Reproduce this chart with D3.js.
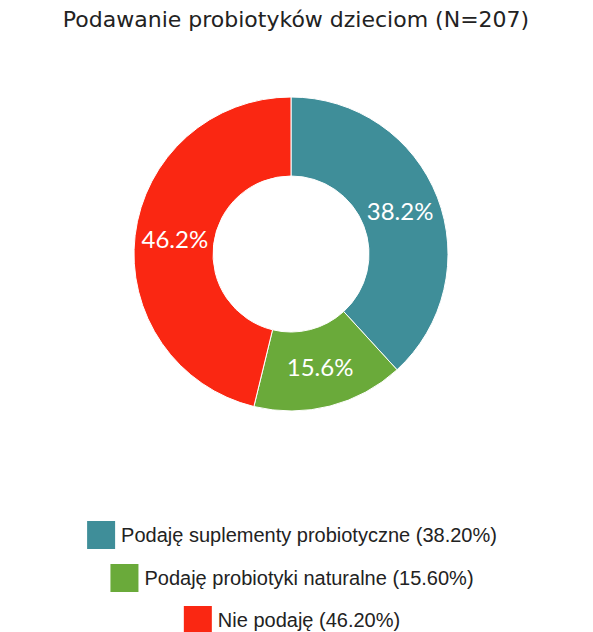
<!DOCTYPE html>
<html><head><meta charset="utf-8">
<script src="https://cdn.jsdelivr.net/npm/d3@7"></script>
<style>body{margin:0;background:#fff}</style>
</head><body>
<svg id="chart" width="593" height="632"></svg>
<script>
var labels = ["Podaję suplementy probiotyczne", "Podaję probiotyki naturalne", "Nie podaję"];
var values = [38.2, 15.6, 46.2];
var colors = ["#3f8e99", "#6aaa3a", "#fa2712"];

var svg = d3.select("#chart");
svg.append("text").attr("x", 296).attr("y", 27).attr("text-anchor", "middle")
    .style("font-family", "DejaVu Sans").style("font-size", "22px").style("fill", "#222")
    .text("Podawanie probiotyków dzieciom (N=207)");

var pie = d3.pie().sort(null);
var arc = d3.arc().innerRadius(78).outerRadius(157);
var g = svg.append("g").attr("transform", "translate(291,254)");
var arcs = pie(values);
g.selectAll("path").data(arcs).enter().append("path")
    .attr("d", arc).attr("fill", (d, i) => colors[i])
    .attr("stroke", "#fff").attr("stroke-width", 1);
var lab = d3.arc().innerRadius(117).outerRadius(117);
g.selectAll("text").data(arcs).enter().append("text")
    .attr("transform", d => "translate(" + lab.centroid(d) + ")")
    .attr("text-anchor", "middle").attr("dy", "0.35em")
    .style("font-family", "Lato").style("font-size", "24px").style("fill", "#fff")
    .text(d => d.data.toFixed(1) + "%");

var rows = [535, 578, 620];
labels.forEach(function(l, i) {
    var t = l + " (" + values[i].toFixed(2) + "%)";
    var txt = svg.append("text").attr("y", rows[i]).attr("dy", "0.35em")
        .style("font-family", "Liberation Sans, Arial").style("font-size", "20px").style("fill", "#222")
        .text(t);
    var w = txt.node().getComputedTextLength();
    var total = 28 + 6 + w;
    var x0 = 292 - total / 2;
    svg.append("rect").attr("x", x0).attr("y", rows[i] - 14).attr("width", 28).attr("height", 28)
        .attr("fill", colors[i]);
    txt.attr("x", x0 + 34);
});
</script>
</body></html>
